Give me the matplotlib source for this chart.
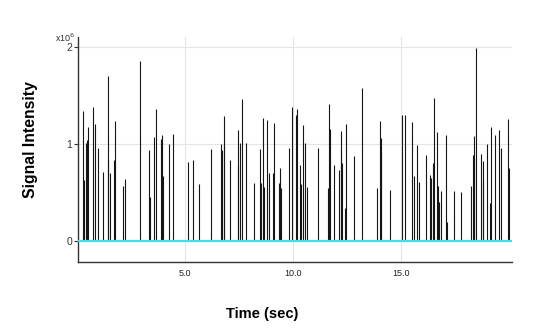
import matplotlib.pyplot as plt

plt.rcParams['font.family'] = ['Liberation Sans', 'DejaVu Sans']

# spike positions (sec) and intensities (x10^6)
times = [0.29, 0.34, 0.40, 0.46, 0.49, 0.75, 0.85, 0.96, 1.22, 1.42, 1.45, 1.54,
         1.73, 1.77, 2.12, 2.21, 2.89, 3.35, 3.38, 3.58, 3.67, 3.87, 3.95, 4.00,
         4.27, 4.46, 5.15, 5.38, 5.66, 6.22, 6.68, 6.71, 6.79, 6.81, 7.07, 7.47,
         7.47, 7.56, 7.62, 7.81, 8.21, 8.49, 8.52, 8.63, 8.67, 8.78, 8.87, 9.06,
         9.11, 9.37, 9.41, 9.46, 9.80, 9.94, 10.12, 10.17, 10.31, 10.39, 10.48,
         10.57, 10.66, 11.14, 11.61, 11.65, 11.70, 11.88, 12.14, 12.21, 12.24,
         12.28, 12.42, 12.47, 12.84, 13.18, 13.90, 14.04, 14.09, 14.09, 14.50,
         15.06, 15.20, 15.50, 15.62, 15.75, 15.85, 16.14, 16.33, 16.40, 16.48,
         16.51, 16.68, 16.71, 16.75, 16.87, 17.10, 17.13, 17.47, 17.76, 18.26,
         18.35, 18.40, 18.40, 18.49, 18.72, 18.78, 18.78, 18.97, 19.13, 19.15,
         19.37, 19.55, 19.64, 19.97, 20.00]
heights = [1.34, 0.63, 1.01, 1.04, 1.17, 1.38, 1.20, 0.96, 0.71, 1.70, 0.83, 0.70,
           0.83, 1.23, 0.57, 0.64, 1.85, 0.94, 0.45, 1.07, 1.36, 1.05, 1.09, 0.67,
           1.00, 1.10, 0.81, 0.83, 0.59, 0.95, 1.00, 0.94, 1.29, 1.01, 0.83, 1.14,
           0.77, 1.01, 1.46, 1.01, 0.60, 0.95, 0.60, 1.27, 0.56, 1.24, 0.70, 0.70,
           1.21, 0.60, 0.75, 0.55, 0.96, 1.38, 1.30, 1.36, 0.78, 0.59, 1.19,
           1.01, 0.56, 0.96, 0.55, 1.41, 1.15, 0.78, 0.73, 1.13, 0.94,
           0.80, 0.34, 1.20, 0.87, 1.57, 0.55, 1.23, 1.06, 0.90, 0.52,
           1.30, 1.30, 1.22, 0.67, 0.99, 0.61, 0.88, 0.68, 0.65, 0.80,
           1.47, 1.12, 0.57, 0.40, 0.51, 1.09, 0.20, 0.51, 0.50, 0.57,
           0.88, 1.08, 0.83, 1.99, 0.89, 0.82, 0.64, 1.00, 0.39, 1.17,
           1.09, 1.14, 0.96, 1.25, 0.75]

xticks = [5.0, 10.0, 15.0]
yticks = [0, 1, 2]

fig = plt.figure(figsize=(5.36, 3.33), dpi=100)
ax = fig.add_axes([0.1455, 0.213, 0.81, 0.675])

ax.vlines(times, 0, heights, color='#151515', linewidth=0.8, zorder=3)
ax.axhline(0, color='#40e0e0', linewidth=1.6, zorder=4)

ax.set_xlim(0.04, 20.15)
ax.set_ylim(-0.217, 2.095)

ax.set_xticks(xticks)
ax.set_xticklabels(['%.1f' % t for t in xticks])
ax.set_yticks(yticks)
ax.tick_params(axis='x', length=0, pad=5, labelsize=6.5, colors='#222222')
ax.tick_params(axis='y', length=3, width=0.8, pad=1, labelsize=7.5, colors='#333333')

ax.grid(True, color='#e4e4e4', linewidth=0.8, zorder=0)
ax.set_axisbelow(True)

for s in ['top', 'right']:
    ax.spines[s].set_visible(False)
for s in ['left', 'bottom']:
    ax.spines[s].set_color('#333333')
    ax.spines[s].set_linewidth(1.0)

ax.set_xlabel('Time (sec)', fontsize=10.5, fontweight='bold')
ax.xaxis.set_label_coords(0.425, -0.2)
ax.set_ylabel('Signal Intensity', fontsize=11.3, fontweight='bold')
ax.yaxis.set_label_coords(-0.092, 0.545)

fig.text(0.103, 0.887, r'x10$^6$', fontsize=6.5, color='#333333', va='center')

fig.savefig('out.png', dpi=100)
